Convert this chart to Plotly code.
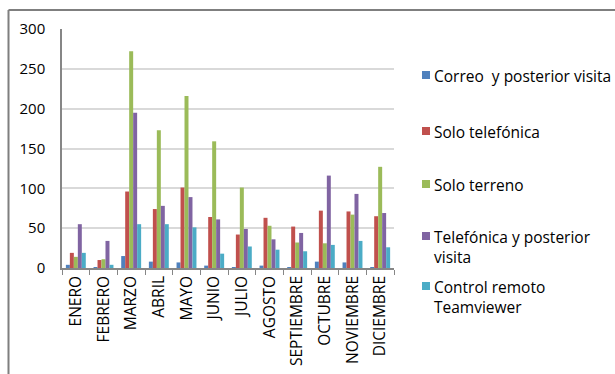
import plotly.graph_objects as go

months = ["ENERO", "FEBRERO", "MARZO", "ABRIL", "MAYO", "JUNIO", "JULIO",
          "AGOSTO", "SEPTIEMBRE", "OCTUBRE", "NOVIEMBRE", "DICIEMBRE"]

series_names = ["Correo  y posterior visita", "Solo telefónica", "Solo terreno",
                "Telefónica y posterior visita", "Control remoto Teamviewer"]
legend_labels = ["Correo  y posterior visita", "Solo telefónica", "Solo terreno",
                 "Telefónica y posterior<br>visita", "Control remoto<br>Teamviewer"]

correo = [4, 1, 15, 8, 7, 3, 1, 3, 1, 8, 7, 1]
telefonica = [19, 10, 96, 74, 101, 64, 42, 63, 52, 72, 71, 65]
terreno = [14, 11, 272, 173, 216, 159, 101, 53, 32, 31, 67, 127]
tel_visita = [55, 34, 195, 78, 89, 61, 49, 36, 44, 116, 93, 69]
remoto = [19, 4, 55, 55, 51, 18, 27, 23, 21, 29, 34, 26]

values = [correo, telefonica, terreno, tel_visita, remoto]
colors = ["#4F81BD", "#C0504D", "#9BBB59", "#8064A2", "#4BACC6"]

W, H = 615, 374
L, R, T, B = 62, 221, 29, 106
PW, PH = W - L - R, H - T - B


def px(x):
    return (x - L) / PW


def py(y):
    return (H - B - y) / PH


FONT = "Open Sans"

fig = go.Figure()
for name, vals, col in zip(series_names, values, colors):
    fig.add_trace(go.Bar(x=months, y=vals, name=name, marker_color=col,
                         marker_line_width=0, showlegend=False))

shapes = []
annotations = []
# manual legend
first_line_y = [75, 131, 184, 236, 286]
for lab, col, yy in zip(legend_labels, colors, first_line_y):
    shapes.append(dict(type="rect", xref="paper", yref="paper",
                       x0=px(422), x1=px(430), y0=py(yy + 4), y1=py(yy - 4),
                       fillcolor=col, line_width=0))
    annotations.append(dict(text=lab, xref="paper", yref="paper",
                            x=px(432), y=py(yy - 12), xanchor="left", yanchor="top",
                            align="left", showarrow=False,
                            font=dict(family=FONT, size=15.5, color="#000000")))

# outer chart frame (top and left edges visible)
shapes.append(dict(type="line", xref="paper", yref="paper",
                   x0=px(8.5), x1=px(640), y0=py(10), y1=py(10),
                   line=dict(color="#7f7f7f", width=2)))
shapes.append(dict(type="line", xref="paper", yref="paper",
                   x0=px(8.5), x1=px(8.5), y0=py(10), y1=py(400),
                   line=dict(color="#7f7f7f", width=2)))

fig.update_layout(
    width=W, height=H,
    margin=dict(l=L, r=R, t=T, b=B, autoexpand=False),
    paper_bgcolor="white", plot_bgcolor="white",
    barmode="group", bargap=0.28, bargroupgap=0,
    showlegend=False,
    font=dict(family=FONT, size=15, color="#000000"),
    shapes=shapes, annotations=annotations,
    xaxis=dict(showline=True, linecolor="#868686", linewidth=1.5,
               ticks="outside", tickson="boundaries", ticklen=5,
               tickcolor="#868686", tickangle=-90, showgrid=False,
               automargin=False,
               tickfont=dict(family=FONT, size=15.5)),
    yaxis=dict(range=[0, 300], dtick=50, showline=True, linecolor="#868686",
               linewidth=1.5, gridcolor="#d9d9d9", gridwidth=1.5,
               ticks="", ticklabelstandoff=12, zeroline=False,
               automargin=False,
               tickfont=dict(family=FONT, size=15)),
)

fig.write_html("out.html")
